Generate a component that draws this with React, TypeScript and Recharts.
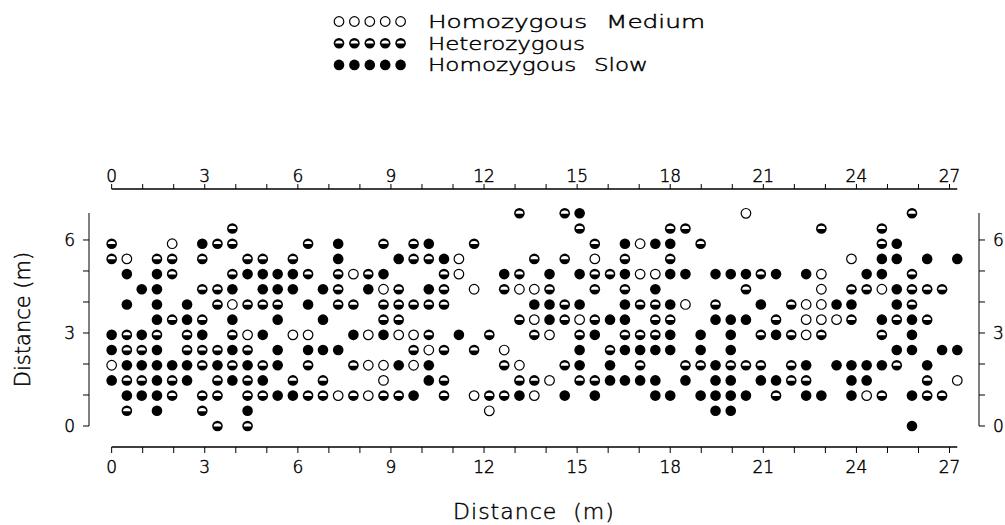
import { Legend, ReferenceLine, Scatter, ScatterChart, XAxis, YAxis } from "recharts";

// x position (m) of each sampling column, left to right
const colX = [
  0, 0.49, 0.97, 1.46, 1.95, 2.43, 2.92, 3.41, 3.89, 4.38,
  4.87, 5.35, 5.84, 6.33, 6.81, 7.3, 7.79, 8.27, 8.76, 9.25,
  9.73, 10.22, 10.71, 11.19, 11.68, 12.17, 12.65, 13.14, 13.62, 14.11,
  14.6, 15.08, 15.57, 16.06, 16.54, 17.03, 17.52, 18.0, 18.49, 18.98,
  19.46, 19.95, 20.44, 20.92, 21.41, 21.9, 22.38, 22.87, 23.36, 23.84,
  24.33, 24.82, 25.3, 25.79, 26.28, 26.76, 27.25,
];

// y position (m) of each row, top to bottom
const rowY = [6.86, 6.37, 5.88, 5.39, 4.9, 4.41, 3.92, 3.43, 2.94, 2.45, 1.96, 1.47, 0.98, 0.49, 0];

// o = homozygous medium, h = heterozygous, s = homozygous slow, . = nothing
const genotypeGrid = [
  ".......... .......... .......h.. hs........ ..o....... ...h...",
  "........h. .......... .......... .h.....hh. .......h.. .h.....",
  "h...o.shh. ...h.s..h. hs..h..... ..h.soss.h .......... .hs....",
  "ho.hh.h..h h.h..s...s hhso....h. h.o.h..h.. .........o .ss.s.s",
  ".s.sh...hs sssh.hohs. ..ho..sh.s .shhsooss. ssshs.so.. ss.h...",
  "..ss..hhs. sss.sh.soh .sh.o.hooh ..h.h.s... ..h....o.h hoshhh.",
  ".s.s.s.hoh hh.s.hh.hh hhh.....ss hs..shhso. h..s.hooss ..sh...",
  "...shsh.s. .s..s...hh .......hos hohss.hh.. sss.h.oooh .shsh..",
  "shsh.hs.ho s.oo..soso oh.s.h..ho .hs.hhhs.s .s.hshoh.. .h.s...",
  "shhs.hhhsh .s.sss.... hoh.h.o... .s.hssss.s .s........ ..ss.ss",
  "ossssshshs hs.h..hoos os....ho.. hs.s.h..hh shhh.hs.ss ssh.s..",
  "shhshs.hsh s.h.h...o. .sh....hho .hhssss.s. ss.sshh..s s...h.o",
  ".sssh.hh.h hsshhohohh s.h.ohhso. s.s...ss.s sss.h.ss.s oh.shh.",
  ".h.s..h..s .......... .....o.... .......... ss........ .......",
  ".......h.h .......... .......... .......... .......... ...s...",
];

const genotypes = [
  { code: "o", name: "Homozygous Medium", width: 277 },
  { code: "h", name: "Heterozygous", width: 157 },
  { code: "s", name: "Homozygous Slow", width: 220 },
];

const xTicks = [0, 1, 2, 3, 4, 5, 6, 7, 8, 9, 10, 11, 12, 13, 14, 15, 16, 17, 18, 19, 20, 21, 22, 23, 24, 25, 26, 27];
const yTicks = [0, 1, 2, 3, 4, 5, 6];

const FONT = "'DejaVu Sans', Verdana, sans-serif";
// thin lettering, thickened a touch with a hairline outline
const thinText = { fontWeight: 200, fill: "#000", stroke: "#000", strokeWidth: 0.45 };

function pointsOf(code: string) {
  const pts: { x: number; y: number }[] = [];
  genotypeGrid.forEach((row, i) => {
    row.replace(/ /g, "").split("").forEach((c, j) => {
      if (c === code) pts.push({ x: colX[j], y: rowY[i] });
    });
  });
  return pts;
}

function Marker({ cx, cy, code }: { cx: number; cy: number; code: string }) {
  if (code === "o") {
    return <circle cx={cx} cy={cy} r={4.8} fill="#fff" stroke="#000" strokeWidth={1.2} />;
  }
  if (code === "s") {
    return <circle cx={cx} cy={cy} r={5.3} fill="#000" />;
  }
  return (
    <g>
      <circle cx={cx} cy={cy} r={5.3} fill="#000" />
      <path d={`M${cx - 3.8},${cy + 0.4} A3.8,3.2 0 0 1 ${cx + 3.8},${cy + 0.4} Z`} fill="#fff" />
    </g>
  );
}

const BottomTick = (props: any) => {
  const { x, y, payload } = props;
  const v = payload.value;
  return (
    <g>
      <line x1={x} x2={x} y1={y + 21} y2={y + 27} stroke="#000" />
      {v % 3 === 0 && (
        <text x={x} y={y + 47} textAnchor="middle" fontSize={17} {...thinText}>
          {v}
        </text>
      )}
    </g>
  );
};

const TopTick = (props: any) => {
  const { x, y, payload } = props;
  const v = payload.value;
  return (
    <g>
      <line x1={x} x2={x} y1={y - 24} y2={y - 29} stroke="#000" />
      {v % 3 === 0 && (
        <text x={x} y={y - 31} textAnchor="middle" fontSize={17} {...thinText}>
          {v}
        </text>
      )}
    </g>
  );
};

const renderLegend = () => (
  <svg width={1005} height={80} style={{ display: "block" }}>
    {genotypes.map((g, i) => {
      const cy = 21.5 + i * 21.7;
      return (
        <g key={g.code}>
          {[0, 1, 2, 3, 4].map((k) => (
            <Marker key={k} cx={339 + k * 15.4} cy={cy} code={g.code} />
          ))}
          <text
            x={428}
            y={cy}
            dy="0.36em"
            fontSize={18}
            textLength={g.width}
            lengthAdjust="spacingAndGlyphs"
            wordSpacing={8}
            fontFamily={FONT}
            {...thinText}
          >
            {g.name}
          </text>
        </g>
      );
    })}
  </svg>
);

export default function App() {
  return (
    <div style={{ position: "absolute", left: 0, top: 0, width: 1005, height: 525, background: "#fff", fontFamily: FONT }}>
      <ScatterChart width={1005} height={525} margin={{ top: 0, right: 0, bottom: 0, left: 0 }}>
        <XAxis
          xAxisId="bottom"
          type="number"
          dataKey="x"
          domain={[-0.73, 27.95]}
          ticks={xTicks}
          interval={0}
          height={99}
          axisLine={false}
          tickLine={false}
          tickSize={0}
          tickMargin={0}
          tick={BottomTick}
          label={{ value: "Distance (m)", position: "insideBottom", offset: 6, fontSize: 22, letterSpacing: 1, wordSpacing: 8, ...thinText }}
        />
        <XAxis
          xAxisId="top"
          orientation="top"
          type="number"
          dataKey="x"
          domain={[-0.73, 27.95]}
          ticks={xTicks}
          interval={0}
          height={213}
          axisLine={false}
          tickLine={false}
          tickSize={0}
          tickMargin={0}
          tick={TopTick}
        />
        <YAxis
          yAxisId="left"
          type="number"
          dataKey="y"
          domain={[0, 6.87]}
          ticks={yTicks}
          interval={0}
          width={89}
          stroke="#000"
          tickSize={6}
          tickMargin={8}
          tick={{ fontSize: 17, ...thinText }}
          tickFormatter={(v: number) => (v % 3 === 0 ? String(v) : "")}
          label={{ value: "Distance (m)", angle: -90, position: "insideLeft", offset: 23, textAnchor: "middle", fontSize: 21, ...thinText }}
        />
        <YAxis
          yAxisId="right"
          orientation="right"
          type="number"
          dataKey="y"
          domain={[0, 6.87]}
          ticks={yTicks}
          interval={0}
          width={26}
          stroke="#000"
          tickSize={6}
          tickMargin={8}
          tick={{ fontSize: 17, ...thinText }}
          tickFormatter={(v: number) => (v % 3 === 0 ? String(v) : "")}
        />
        <ReferenceLine
          xAxisId="bottom"
          yAxisId="left"
          segment={[{ x: 0, y: -0.677 }, { x: 27.25, y: -0.677 }]}
          ifOverflow="visible"
          stroke="#000"
          strokeWidth={1.5}
        />
        <ReferenceLine
          xAxisId="bottom"
          yAxisId="left"
          segment={[{ x: 0, y: 7.645 }, { x: 27.25, y: 7.645 }]}
          ifOverflow="visible"
          stroke="#000"
          strokeWidth={1.5}
        />
        <Legend
          layout="vertical"
          align="center"
          verticalAlign="middle"
          wrapperStyle={{ top: 0, left: 0, width: 1005, height: 80 }}
          content={renderLegend}
        />
        {genotypes.map((g) => {
          // the top and right axes share the same scales; binding one series to them makes them draw their ticks
          const mirrored = g.code === "h";
          return (
            <Scatter
              key={g.code}
              name={g.name}
              data={pointsOf(g.code)}
              xAxisId={mirrored ? "top" : "bottom"}
              yAxisId={mirrored ? "right" : "left"}
              isAnimationActive={false}
              shape={(p: any) => <Marker cx={p.cx} cy={p.cy} code={g.code} />}
            />
          );
        })}
      </ScatterChart>
    </div>
  );
}
